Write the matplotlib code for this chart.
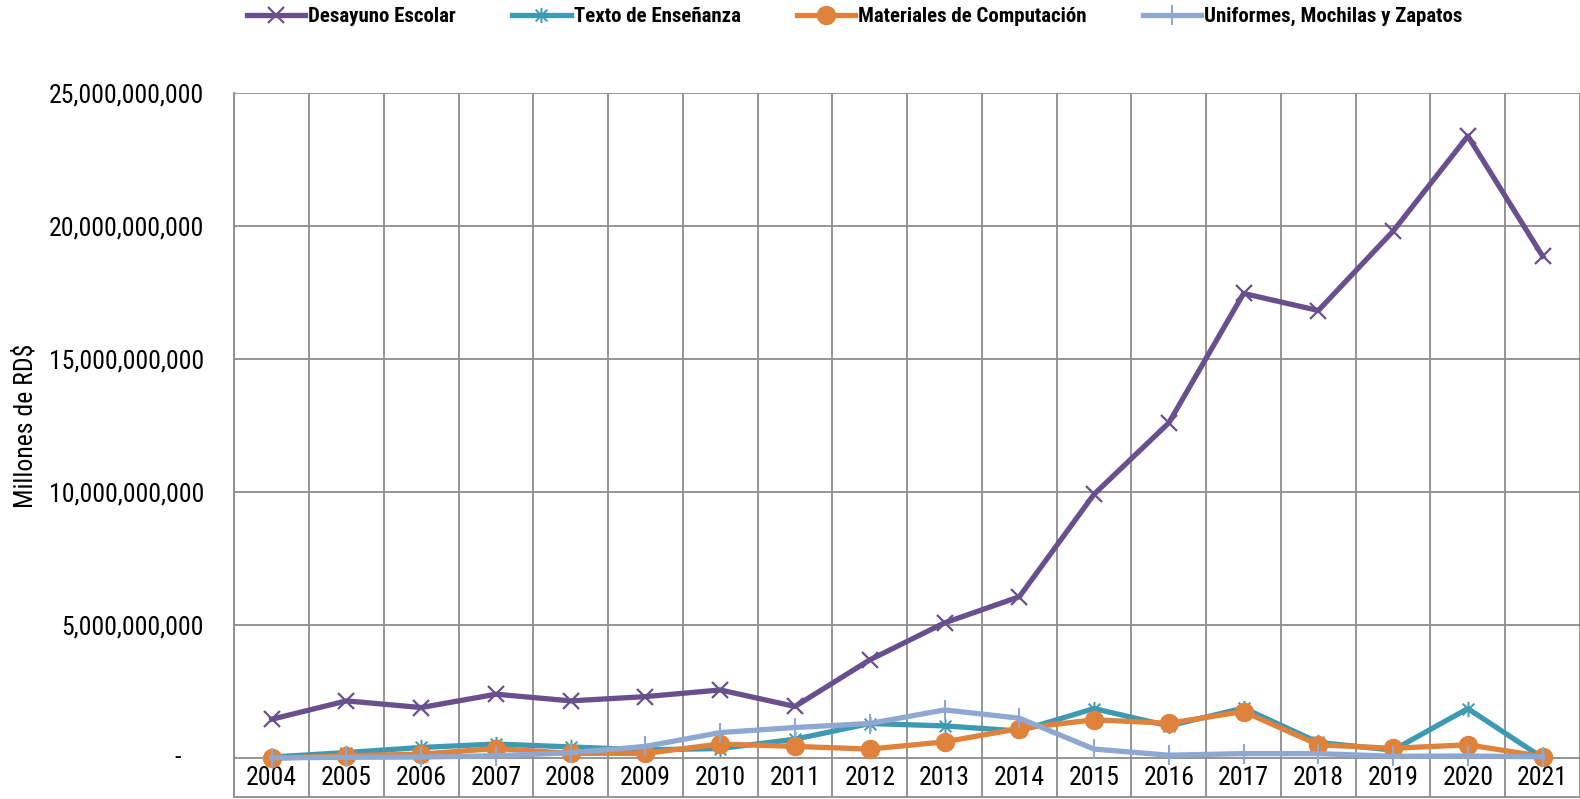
import numpy as np
import matplotlib
matplotlib.use("Agg")
import matplotlib.pyplot as plt
from matplotlib.path import Path
from matplotlib.ticker import FuncFormatter

plt.rcParams['font.family'] = ['Roboto Condensed', 'DejaVu Sans']

years = [str(y) for y in range(2004, 2022)]

# valores en miles de millones de RD$
desayuno = [1.47, 2.16, 1.91, 2.41, 2.16, 2.32, 2.57, 1.95, 3.70, 5.09, 6.07,
            9.92, 12.60, 17.46, 16.82, 19.80, 23.37, 18.86]
texto = [0.05, 0.22, 0.41, 0.54, 0.43, 0.32, 0.37, 0.72, 1.31, 1.22, 1.03,
         1.87, 1.22, 1.89, 0.60, 0.31, 1.87, 0.02]
materiales = [0.00, 0.10, 0.16, 0.37, 0.19, 0.19, 0.54, 0.45, 0.35, 0.62, 1.12,
              1.45, 1.32, 1.76, 0.51, 0.38, 0.51, 0.07]
uniformes = [0.02, 0.04, 0.05, 0.10, 0.21, 0.45, 0.97, 1.16, 1.31, 1.82, 1.51,
             0.35, 0.12, 0.18, 0.18, 0.08, 0.09, 0.06]

labels = ['Desayuno Escolar', 'Texto de Enseñanza',
          'Materiales de Computación', 'Uniformes, Mochilas y Zapatos']

purple = '#6A4F8E'
teal = '#3C9AB2'
orange = '#DE823C'
lightblue = '#8FA8D2'
gridc = '#8C8C8C'

# asterisco estilo Excel (x + barra vertical)
star = Path([(-1, -1), (1, 1), (-1, 1), (1, -1), (0, -1.3), (0, 1.3)],
            [Path.MOVETO, Path.LINETO, Path.MOVETO, Path.LINETO, Path.MOVETO, Path.LINETO])

x = np.arange(len(years))
scale = 1e9
ext = 1.45e9  # franja de etiquetas bajo el eje

fig = plt.figure(figsize=(15.8, 7.99), dpi=100)
ax = fig.add_axes([0.1483, 0.0025, 0.8517, 0.8815])

ax.plot(x, np.array(desayuno) * scale, color=purple, lw=3.8, marker='x', ms=12, mew=1.6, label=labels[0], zorder=3)
ax.plot(x, np.array(texto) * scale, color=teal, lw=3.8, marker=star, ms=11, mew=1.4, label=labels[1], zorder=4)
ax.plot(x, np.array(materiales) * scale, color=orange, lw=3.8, marker='o', ms=13, label=labels[2], zorder=5)
ax.plot(x, np.array(uniformes) * scale, color=lightblue, lw=3.8, marker='|', ms=14, mew=1.5, label=labels[3], zorder=6)

ax.set_xlim(-0.5, len(years) - 0.5)
ax.set_ylim(-ext, 25e9)

# cuadricula
for b in np.arange(-0.5, len(years), 1.0):
    ax.axvline(b, color=gridc, lw=1.3, zorder=1)
for v in np.arange(0, 25e9 + 1, 5e9):
    ax.axhline(v, color=gridc, lw=1.3, zorder=1)

for s in ['top', 'right']:
    ax.spines[s].set_visible(False)
for s in ['left', 'bottom']:
    ax.spines[s].set_color(gridc)
    ax.spines[s].set_linewidth(1.3)

ax.set_xticks([])
ax.set_yticks(np.arange(0, 25e9 + 1, 5e9))
ax.yaxis.set_major_formatter(FuncFormatter(lambda v, p: '' if v == 0 else f'{v:,.0f}'))
ax.tick_params(axis='y', length=0, pad=22, labelsize=18.5)

# cero en formato contable
ax.text(-0.040, 0, '-', transform=ax.get_yaxis_transform(), ha='right', va='center', fontsize=18.5)

for i, yr in enumerate(years):
    ax.text(i, -ext / 2, yr, ha='center', va='center', fontsize=18.5)

fig.text(0.016, 0.467, 'Millones de RD$', rotation=90, ha='center', va='center', fontsize=18.5)

fig.legend(loc='center', bbox_to_anchor=(0.541, 0.979), ncol=4, frameon=False,
           prop={'weight': 'bold', 'size': 15}, handlelength=2.8, handletextpad=0.15,
           columnspacing=2.7, numpoints=1)

fig.savefig('out.png', dpi=100)
